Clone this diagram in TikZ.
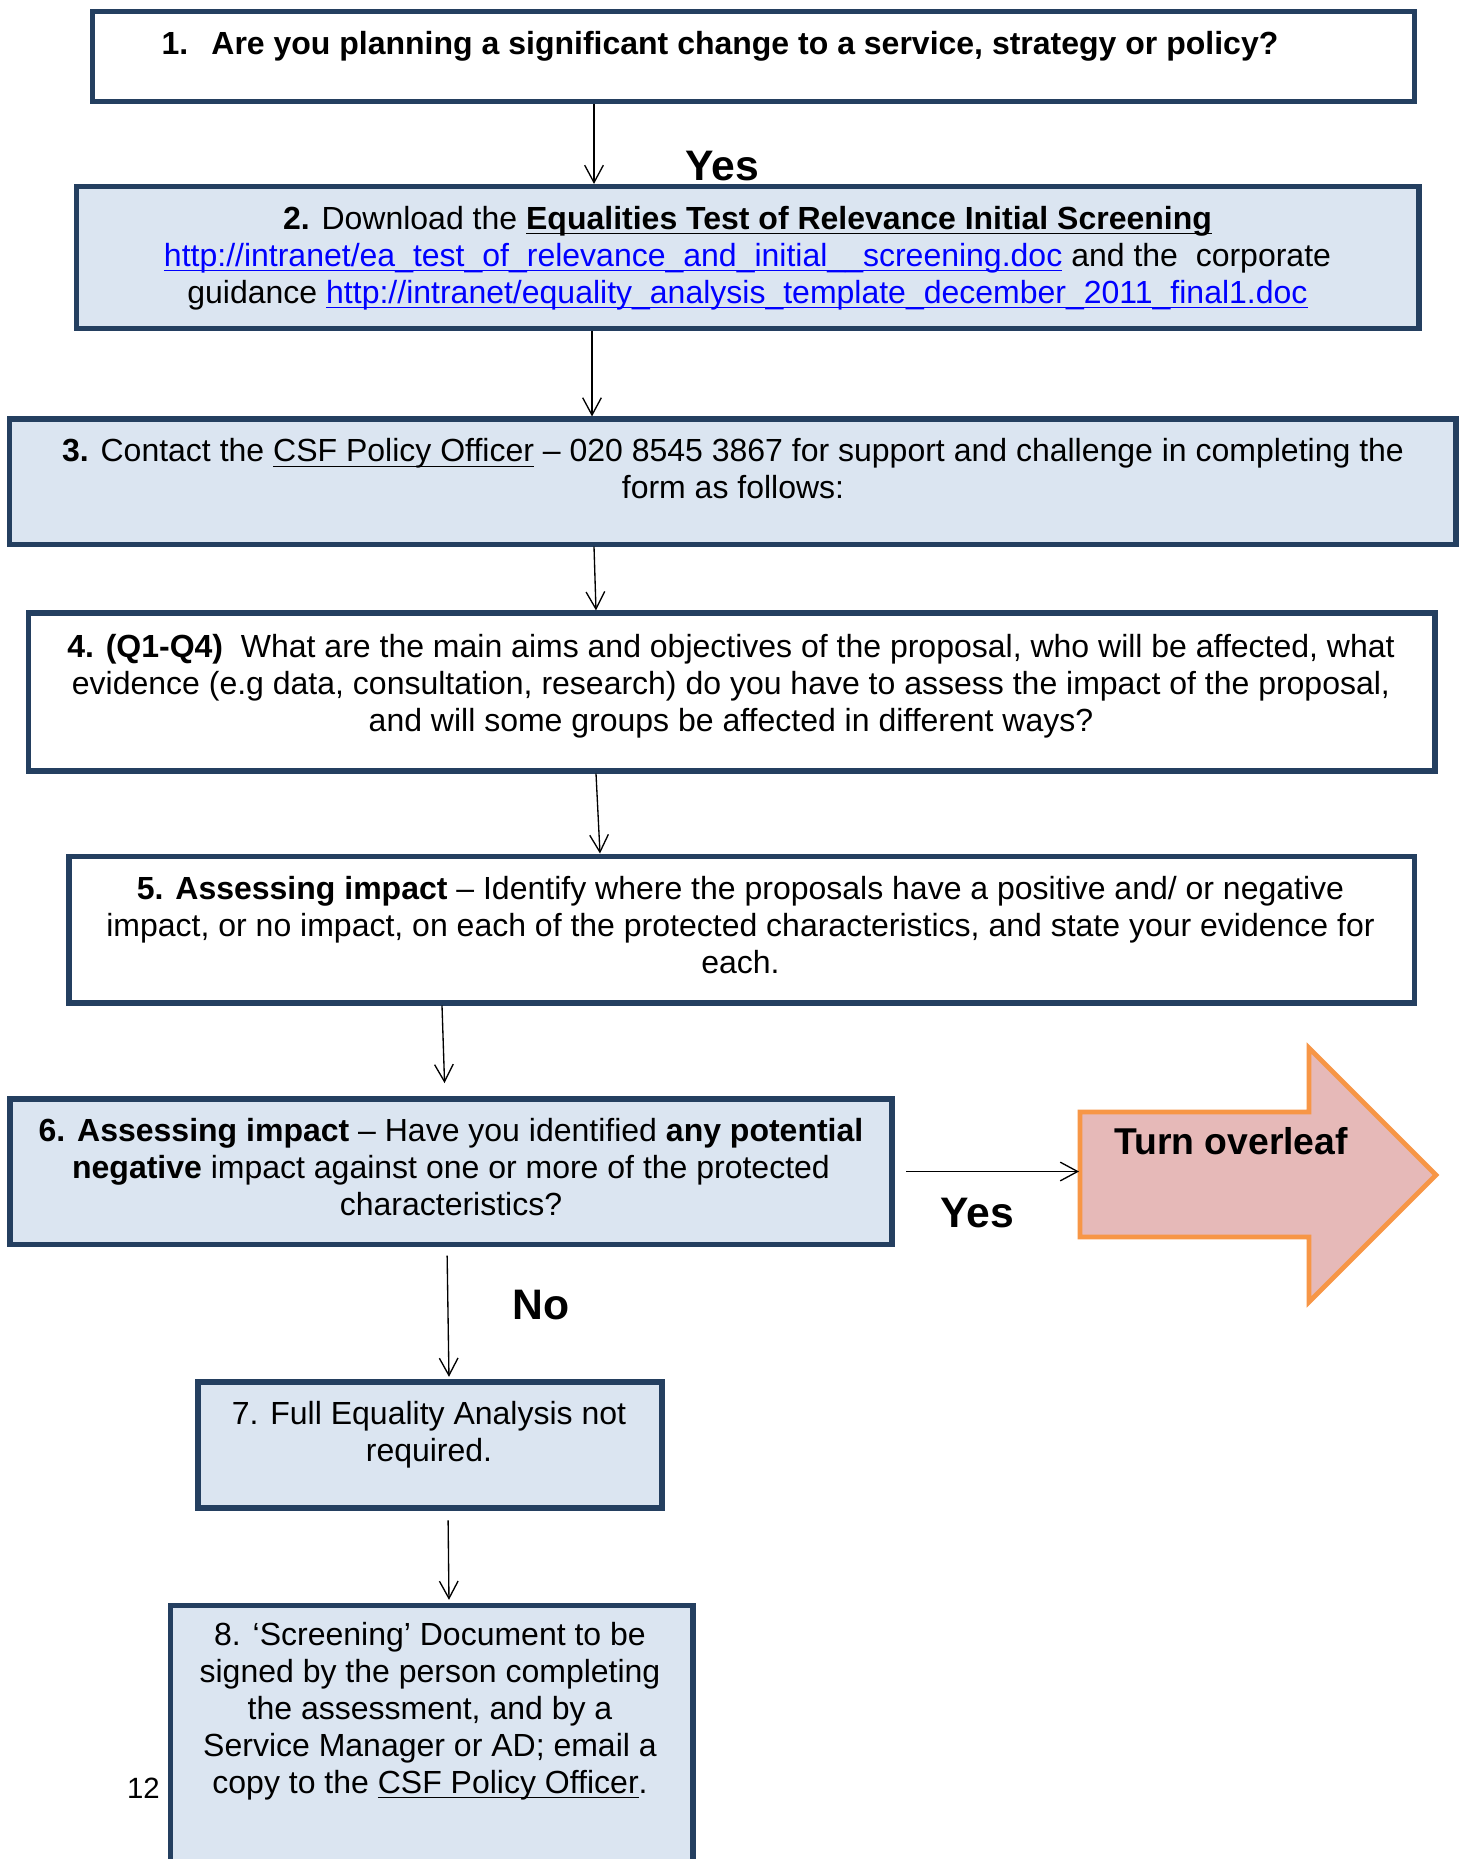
\documentclass[tikz,border=0pt]{standalone}
\usepackage{fontspec}
\setmainfont{Liberation Sans}
\usetikzlibrary{arrows.meta,calc}
\definecolor{navy}{RGB}{36,63,96}
\definecolor{lightblue}{RGB}{219,229,241}
\definecolor{pinkfill}{RGB}{230,185,184}
\definecolor{orangeline}{RGB}{247,150,70}
\definecolor{linkblue}{RGB}{0,0,255}
\newsavebox\ulbox
\newcommand\ul[1]{\sbox\ulbox{#1}\rlap{\rule[-2pt]{\wd\ulbox}{0.45pt}}\usebox\ulbox}
\newcommand\lnk[1]{\textcolor{linkblue}{\ul{#1}}}
\begin{document}
\begin{tikzpicture}[x=0.375pt,y=-0.375pt,
  box/.style={draw=navy,line width=1.9pt,inner sep=0pt},
  whitebox/.style={box,fill=white},
  bluebox/.style={box,fill=lightblue},
  conn/.style={line width=0.5pt,-{Straight Barb[length=6.5pt,width=7pt,line width=0.5pt]}},
  txt/.style={font=\fontsize{12pt}{13.875pt}\selectfont,align=center,inner sep=0pt,anchor=base},
  big/.style={font=\fontsize{16pt}{18pt}\selectfont\bfseries,inner sep=0pt}]
\clip (0,0) rectangle (1462,1859);
\fill[white] (0,0) rectangle (1462,1859);
% boxes
\node[whitebox,minimum width=495.6pt,minimum height=33.6pt] (b1) at (753.75,56.75) {};
\node[bluebox,minimum width=503.4pt,minimum height=53.1pt] (b2) at (747.75,257.25) {};
\node[bluebox,minimum width=542.4pt,minimum height=46.9pt] (b3) at (732.75,481.5) {};
\node[whitebox,minimum width=527.4pt,minimum height=59.25pt] (b4) at (731.75,692) {};
\node[whitebox,minimum width=504.4pt,minimum height=55.1pt] (b5) at (741.5,929.5) {};
\node[bluebox,minimum width=330.75pt,minimum height=54.4pt] (b6) at (451,1171.5) {};
\node[bluebox,minimum width=174pt,minimum height=47.25pt] (b7) at (430,1445) {};
\node[bluebox,minimum width=196.1pt,minimum height=110.6pt] (b8) at (431.5,1752.5) {};
% turn overleaf arrow
\draw[fill=pinkfill,draw=orangeline,line width=1.75pt,line join=miter]
  (1080,1112) -- (1309,1112) -- (1309,1048) -- (1436,1175) -- (1309,1302) -- (1309,1237) -- (1080,1237) -- cycle;
\coordinate (ovl) at (1079,1171.5);
% connectors
\draw[conn] ($(b1.south)+(-159.75,0)$) -- ($(b2.north)+(-153.75,0)$);
\draw[conn] ($(b2.south)+(-155.75,0)$) -- ($(b3.north)+(-140.75,0)$);
\draw[conn] ($(b3.south)+(-138.75,0)$) -- ($(b4.north)+(-135.75,0)$);
\draw[conn] ($(b4.south)+(-135.75,0)$) -- ($(b5.north)+(-141.5,0)$);
\draw[conn,shorten >=5pt] ($(b5.south)+(-299.5,0)$) -- ($(b6.north)+(-6,0)$);
\draw[conn,shorten <=4.3pt] (b6.east) -- (ovl);
\draw[conn,shorten <=3.4pt,shorten >=1pt] ($(b6.south)+(-4,0)$) -- ($(b7.north)+(19,0)$);
\draw[conn,shorten <=3.7pt,shorten >=1pt] ($(b7.south)+(18,0)$) -- ($(b8.north)+(17.5,0)$);
% texts (base anchor = baseline of last line)
\node[txt] (t1) at (720,55) {\textbf{1.\hspace{0.72em}Are you planning a significant change to a service, strategy or policy?}};
\node[txt] (t2) at (747.5,303) {\textbf{2.} Download the \textbf{\ul{Equalities Test of Relevance Initial Screening}}\\
  \lnk{http://intranet/ea\_test\_of\_relevance\_and\_initial\_\_screening.doc} and the\ \ corporate\\
  guidance \lnk{http://intranet/equality\_analysis\_template\_december\_2011\_final1.doc}};
\node[txt] (t3) at (733,498.5) {\textbf{3.} Contact the \ul{CSF Policy Officer} – 020 8545 3867 for support and challenge in completing the\\ form as follows:};
\node[txt] (t4) at (731,731) {\textbf{4. (Q1-Q4)}\ \ What are the main aims and objectives of the proposal, who will be affected, what\\
  evidence (e.g data, consultation, research) do you have to assess the impact of the proposal,\\
  and will some groups be affected in different ways?};
\node[txt] (t5) at (740.5,973) {\textbf{5. Assessing impact} – Identify where the proposals have a positive and/ or negative\\
  impact, or no impact, on each of the protected characteristics, and state your evidence for\\
  each.};
\node[txt] (t6) at (451,1215) {\textbf{6. Assessing impact} – Have you identified \textbf{any potential}\\
  \textbf{negative} impact against one or more of the protected\\ characteristics?};
\node[txt] (t7) at (429,1461) {7. Full Equality Analysis not\\ required.};
\node[txt] (t8) at (430,1793) {8. ‘Screening’ Document to be\\ signed by the person completing\\ the assessment, and by a\\
  Service Manager or AD; email a\\ copy to the \ul{CSF Policy Officer}.};
% labels
\node[big] (yes1) at (722,166) {Yes};
\node[big] (yes2) at (977,1213) {Yes};
\node[big] (no) at (540.7,1305.5) {No};
\node[font=\fontsize{14pt}{16pt}\selectfont\bfseries,inner sep=0pt] (ovltxt) at (1231,1141) {Turn overleaf};
\node[font=\fontsize{11pt}{13pt}\selectfont,inner sep=0pt] (pg) at (143.5,1788) {12};
\end{tikzpicture}
\end{document}
